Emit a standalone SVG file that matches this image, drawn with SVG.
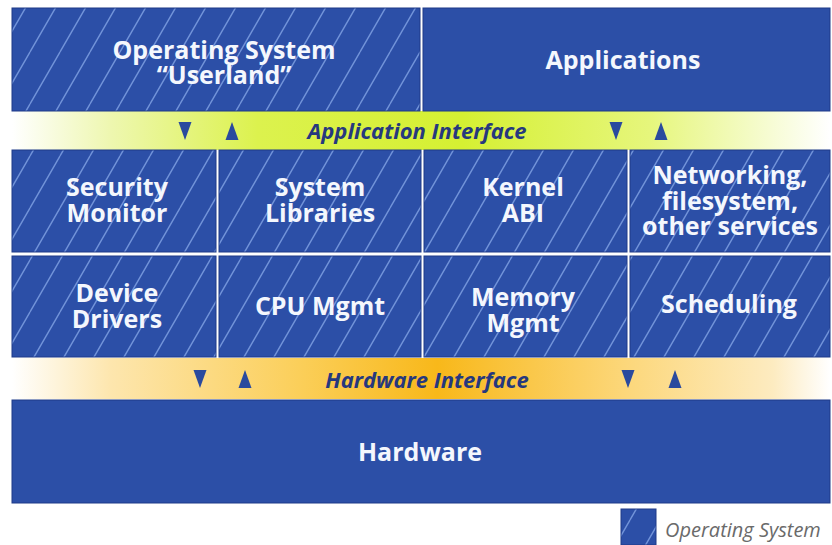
<svg xmlns="http://www.w3.org/2000/svg" width="832" height="545" viewBox="0 0 832 545">
  <defs>
    <pattern id="hatch" patternUnits="userSpaceOnUse" width="30" height="52">
      <rect width="30" height="52" fill="#2c4fa7"/>
      <path d="M-30,52 L0,0 M0,52 L30,0 M30,52 L60,0" stroke="#8fb0ee" stroke-width="1.4" stroke-opacity="0.7"/>
    </pattern>
    <linearGradient id="apiBand" x1="0" y1="0" x2="1" y2="0">
      <stop offset="0" stop-color="#ffffff"/>
      <stop offset="0.12" stop-color="#eef7b0"/>
      <stop offset="0.3" stop-color="#dcf24e"/>
      <stop offset="0.55" stop-color="#d5f032"/>
      <stop offset="0.78" stop-color="#e6f67c"/>
      <stop offset="1" stop-color="#ffffff"/>
    </linearGradient>
    <linearGradient id="hwBand" x1="0" y1="0" x2="1" y2="0">
      <stop offset="0" stop-color="#ffffff"/>
      <stop offset="0.12" stop-color="#fde6ae"/>
      <stop offset="0.35" stop-color="#fbcf5a"/>
      <stop offset="0.52" stop-color="#f8b81a"/>
      <stop offset="0.75" stop-color="#fcd77a"/>
      <stop offset="0.93" stop-color="#fdebc0"/>
      <stop offset="1" stop-color="#ffffff"/>
    </linearGradient>
    <path id="down" d="M-6.5,-9 L6.5,-9 L0,9 Z"/>
    <path id="up" d="M-6.5,9 L6.5,9 L0,-9 Z"/>
  </defs>
  <style>
    .box { stroke: #1f3b88; stroke-width: 1; }
    .os { fill: url(#hatch); }
    .plain { fill: #2c4fa7; }
    .lbl { font-family: "Open Sans", "Liberation Sans", sans-serif; font-weight: 700; font-size: 25px; fill: #f4f7fd; text-anchor: middle; }
    .band { font-family: "Open Sans", "Liberation Sans", sans-serif; font-weight: 700; font-style: italic; font-size: 22px; fill: #26387e; text-anchor: middle; }
    .arrow { fill: #2a4a9e; }
    .legend { font-family: "Open Sans", "Liberation Sans", sans-serif; font-style: italic; font-size: 20px; fill: #6a6a6a; }
  </style>

  <!-- interface bands -->
  <g id="app-interface">
    <rect x="12" y="111" width="818" height="39" fill="url(#apiBand)"/>
    <text class="band" x="417" y="139">Application Interface</text>
  </g>
  <g id="hw-interface">
    <rect x="12" y="358" width="818" height="41" fill="url(#hwBand)"/>
    <text class="band" x="427" y="388">Hardware Interface</text>
  </g>

  <!-- top layer -->
  <g id="userland">
    <rect class="box os" x="12" y="8" width="408" height="103"/>
    <text class="lbl" x="224" y="59"><tspan x="224">Operating System</tspan><tspan x="224" dy="25">“Userland”</tspan></text>
  </g>
  <g id="applications">
    <rect class="box plain" x="423" y="8" width="407" height="103"/>
    <text class="lbl" x="623" y="69">Applications</text>
  </g>

  <!-- kernel services row -->
  <g id="security-monitor">
    <rect class="box os" x="12" y="150" width="204" height="102"/>
    <text class="lbl" x="117" y="196"><tspan x="117">Security</tspan><tspan x="117" dy="26">Monitor</tspan></text>
  </g>
  <g id="system-libraries">
    <rect class="box os" x="219" y="150" width="202" height="102"/>
    <text class="lbl" x="320" y="196"><tspan x="320">System</tspan><tspan x="320" dy="26">Libraries</tspan></text>
  </g>
  <g id="kernel-abi">
    <rect class="box os" x="424" y="150" width="203" height="102"/>
    <text class="lbl" x="523" y="196"><tspan x="523">Kernel</tspan><tspan x="523" dy="26">ABI</tspan></text>
  </g>
  <g id="networking">
    <rect class="box os" x="630" y="150" width="200" height="102"/>
    <text class="lbl" x="730" y="184"><tspan x="730">Networking,</tspan><tspan x="730" dy="25.5">filesystem,</tspan><tspan x="730" dy="25.5">other services</tspan></text>
  </g>

  <!-- kernel core row -->
  <g id="device-drivers">
    <rect class="box os" x="12" y="256" width="204" height="101"/>
    <text class="lbl" x="117" y="302"><tspan x="117">Device</tspan><tspan x="117" dy="26">Drivers</tspan></text>
  </g>
  <g id="cpu-mgmt">
    <rect class="box os" x="219" y="256" width="202" height="101"/>
    <text class="lbl" x="320" y="315">CPU Mgmt</text>
  </g>
  <g id="memory-mgmt">
    <rect class="box os" x="424" y="256" width="203" height="101"/>
    <text class="lbl" x="523" y="306"><tspan x="523">Memory</tspan><tspan x="523" dy="26">Mgmt</tspan></text>
  </g>
  <g id="scheduling">
    <rect class="box os" x="630" y="256" width="200" height="101"/>
    <text class="lbl" x="729" y="313">Scheduling</text>
  </g>

  <!-- hardware -->
  <g id="hardware">
    <rect class="box plain" x="12" y="400" width="818" height="103"/>
    <text class="lbl" x="420" y="461">Hardware</text>
  </g>

  <!-- call direction markers across the interfaces -->
  <g id="connectors" class="arrow">
    <use href="#down" x="185" y="131"/>
    <use href="#up" x="232" y="131"/>
    <use href="#down" x="616" y="131"/>
    <use href="#up" x="661" y="131"/>
    <use href="#down" x="200" y="379"/>
    <use href="#up" x="245" y="379"/>
    <use href="#down" x="628" y="379"/>
    <use href="#up" x="675" y="379"/>
  </g>

  <!-- legend -->
  <g id="legend">
    <rect class="box os" x="621" y="509" width="35" height="36"/>
    <text class="legend" x="665" y="537">Operating System</text>
  </g>
</svg>
